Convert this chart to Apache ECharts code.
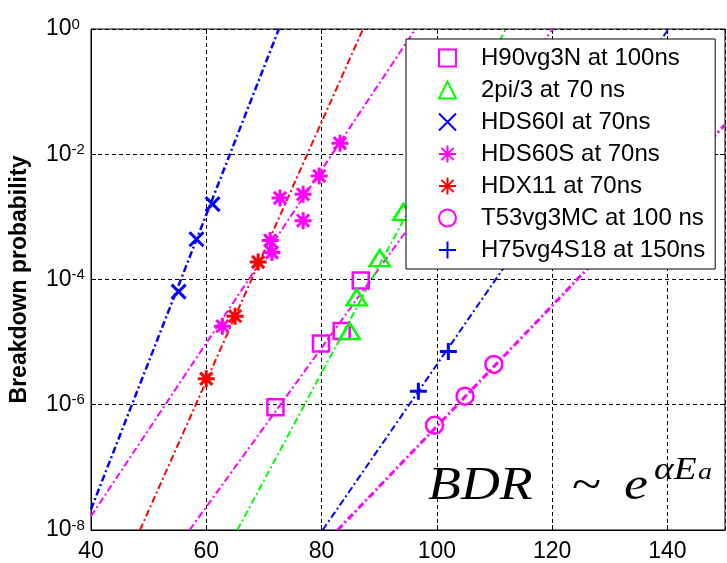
<!DOCTYPE html>
<html>
<head>
<meta charset="utf-8">
<script src="https://cdn.jsdelivr.net/npm/echarts@6/dist/echarts.min.js"></script>
<style>
html,body{margin:0;padding:0;background:#fff;}
#chart{width:727px;height:563px;}
</style>
</head>
<body>
<div id="chart"></div>
<script>
// ---- data ----
const H90vg3N_x = [72.0, 79.9, 83.5, 86.8];
const H90vg3N_y = [9.1e-7, 9.5e-6, 1.5e-5, 9.6e-5];
const twoPi3_x = [84.9, 86.1, 90.1, 94.2];
const twoPi3_y = [1.5e-5, 5.2e-5, 2.2e-4, 1.2e-3];
const HDS60I_x = [55.2, 58.3, 61.1];
const HDS60I_y = [6.4e-5, 4.4e-4, 1.6e-3];
const HDS60S_x = [62.8, 71.1, 71.4, 72.8, 76.8, 76.8, 79.6, 83.2];
const HDS60S_y = [1.8e-5, 4.2e-4, 2.7e-4, 2.0e-3, 2.3e-3, 8.7e-4, 4.5e-3, 1.5e-2];
const HDX11_x = [60.0, 65.0, 69.0];
const HDX11_y = [2.6e-6, 2.6e-5, 1.9e-4];
const T53vg3MC_x = [99.6, 104.9, 109.9];
const T53vg3MC_y = [4.7e-7, 1.37e-6, 4.4e-6];
const H75vg4S18_x = [96.8, 102.0];
const H75vg4S18_y = [1.64e-6, 7.1e-6];

// fitted exponential lines (end points)
const fitHDS60I_x = [40, 72.6];   const fitHDS60I_y = [2.14e-8, 1];
const fitHDS60S_x = [40, 96.3];   const fitHDS60S_y = [1.66e-8, 1];
const fitHDX11_x  = [48.5, 87.2]; const fitHDX11_y  = [1e-8, 1];
const fitH90_x    = [57.1, 120.1];const fitH90_y    = [1e-8, 1];
const fit2pi3_x   = [65.4, 112.0];const fit2pi3_y   = [1e-8, 1];
const fitH75_x    = [80.2, 140.2];const fitH75_y    = [1e-8, 1];
const fitT53_x    = [82.8, 150];  const fitT53_y    = [1e-8, 2.95e-2];

const seriesNames = ['H90vg3N at 100ns','2pi/3 at 70 ns','HDS60I at 70ns','HDS60S at 70ns','HDX11 at 70ns','T53vg3MC at 100 ns','H75vg4S18 at 150ns'];
const yAxisName = 'Breakdown probability';
const xMin = 40, xMax = 150, xStep = 20;
const yMin = 1e-8, yMax = 1, yDecadeStep = 2;

const zip = (xs, ys) => xs.map((x, i) => [x, ys[i]]);

const MAG = '#ff00ff', GRN = '#00ff00', BLU = '#0000ff', RED = '#ff0000';
const FONT = '"Liberation Sans", Arial, Helvetica, sans-serif';
const SERIF = '"Liberation Serif", "Times New Roman", serif';

const P_X = 'path://M-1,-1L1,1M-1,1L1,-1';
const P_PLUS = 'path://M0,-1L0,1M-1,0L1,0';
const P_AST = 'path://M0,-1L0,1M-1,0L1,0M-0.72,-0.72L0.72,0.72M-0.72,0.72L0.72,-0.72';

function scat(name, xs, ys, symbol, size, color, bw) {
  return {
    name: name, type: 'scatter', data: zip(xs, ys),
    symbol: symbol, symbolSize: size, z: 4,
    itemStyle: { color: 'rgba(0,0,0,0)', borderColor: color, borderWidth: bw, opacity: 1 }
  };
}
function scatPath(name, xs, ys, symbol, size, color, bw) {
  return {
    name: name, type: 'scatter', data: zip(xs, ys),
    symbol: symbol, symbolSize: size, z: 4,
    itemStyle: { color: color, borderColor: color, borderWidth: bw, opacity: 1 }
  };
}
function fit(id, xs, ys, color, w) {
  return {
    name: id, type: 'line', data: zip(xs, ys), symbol: 'none', z: 3,
    lineStyle: { color: color, width: w, type: [7, 3, 2, 3] }, silent: true
  };
}

const SX = 1.17;
const chart = echarts.init(document.getElementById('chart'), null, { renderer: 'canvas' });
chart.setOption({
  animation: false,
  backgroundColor: '#fff',
  grid: { left: 88, right: 2, top: 29, bottom: 32, show: true, borderColor: '#000', borderWidth: 1, containLabel: false },
  xAxis: [{
    type: 'value', min: xMin, max: xMax, interval: xStep,
    axisLine: { lineStyle: { color: '#000', width: 1 } },
    axisTick: { inside: true, length: 5, lineStyle: { color: '#000' } },
    axisLabel: { color: '#000', fontFamily: FONT, fontSize: 23, margin: 10, showMaxLabel: false,
      formatter: v => (v >= xMax ? '' : String(v)) },
    splitLine: { show: true, lineStyle: { color: '#000', type: [4, 3], width: 1 } }
  }, {
    type: 'value', min: xMin, max: xMax, interval: xStep, position: 'top',
    axisLine: { show: false }, axisLabel: { show: false }, splitLine: { show: false },
    axisTick: { inside: true, length: 5, lineStyle: { color: '#000' } }
  }],
  yAxis: [{
    type: 'log', logBase: 10, min: yMin, max: yMax, interval: yDecadeStep,
    name: yAxisName, nameLocation: 'middle', nameGap: 60,
    nameTextStyle: { color: '#000', fontFamily: FONT, fontSize: 23, fontWeight: 'bold' },
    axisLine: { lineStyle: { color: '#000', width: 1 } },
    axisTick: { inside: true, length: 5, lineStyle: { color: '#000' } },
    minorTick: { show: false },
    axisLabel: {
      color: '#000', align: 'left', margin: 45,
      formatter: v => '{b|10}{s|' + Math.round(Math.log10(v)) + '}',
      rich: {
        b: { fontFamily: FONT, fontSize: 23, color: '#000', lineHeight: 24 },
        s: { fontFamily: FONT, fontSize: 15, color: '#000', verticalAlign: 'top', lineHeight: 15 }
      }
    },
    splitLine: { show: true, lineStyle: { color: '#000', type: [4, 3], width: 1 } }
  }, {
    type: 'log', logBase: 10, min: yMin, max: yMax, interval: yDecadeStep, position: 'right',
    axisLine: { show: false }, axisLabel: { show: false }, splitLine: { show: false },
    axisTick: { inside: true, length: 5, lineStyle: { color: '#000' } }
  }],
  legend: {
    orient: 'vertical', left: 406, top: 39,
    data: seriesNames, selectedMode: false,
    backgroundColor: '#fff', borderColor: '#000', borderWidth: 1,
    padding: [7, 10, 7, 32], itemGap: 8, itemWidth: 17, itemHeight: 17,
    textStyle: { color: '#000', fontFamily: FONT, fontSize: 24, lineHeight: 24, padding: [0, 0, 0, 20] },
    z: 10
  },
  graphic: [
    { type: 'text', x: 428, y: 464, scaleX: SX, z: 20, style: { text: 'BDR', font: 'italic 46px ' + SERIF, fill: '#000' } },
    { type: 'text', x: 572, y: 464, scaleX: SX, z: 20, style: { text: '~', font: '46px ' + SERIF, fill: '#000' } },
    { type: 'text', x: 624, y: 464, scaleX: SX, z: 20, style: { text: 'e', font: 'italic 46px ' + SERIF, fill: '#000' } },
    { type: 'text', x: 654, y: 455, scaleX: SX, z: 20, style: { text: 'αE', font: 'italic 32px ' + SERIF, fill: '#000' } },
    { type: 'text', x: 698, y: 461, scaleX: SX, z: 20, style: { text: 'a', font: 'italic 24px ' + SERIF, fill: '#000' } }
  ],
  series: [
    fit('fit HDS60I', fitHDS60I_x, fitHDS60I_y, BLU, 2.5),
    fit('fit HDS60S', fitHDS60S_x, fitHDS60S_y, MAG, 2),
    fit('fit HDX11', fitHDX11_x, fitHDX11_y, RED, 2),
    fit('fit H90', fitH90_x, fitH90_y, MAG, 2),
    fit('fit 2pi3', fit2pi3_x, fit2pi3_y, GRN, 2),
    fit('fit H75', fitH75_x, fitH75_y, BLU, 2),
    fit('fit T53', fitT53_x, fitT53_y, MAG, 3),
    scat(seriesNames[0], H90vg3N_x, H90vg3N_y, 'rect', 16, MAG, 2.5),
    scat(seriesNames[1], twoPi3_x, twoPi3_y, 'triangle', [20, 16], GRN, 2.5),
    scatPath(seriesNames[2], HDS60I_x, HDS60I_y, P_X, 14, BLU, 3),
    scatPath(seriesNames[3], HDS60S_x, HDS60S_y, P_AST, 17, MAG, 3),
    scatPath(seriesNames[4], HDX11_x, HDX11_y, P_AST, 17, RED, 3),
    scat(seriesNames[5], T53vg3MC_x, T53vg3MC_y, 'circle', 17, MAG, 2.5),
    scatPath(seriesNames[6], H75vg4S18_x, H75vg4S18_y, P_PLUS, 17, BLU, 3)
  ]
});
</script>
</body>
</html>
